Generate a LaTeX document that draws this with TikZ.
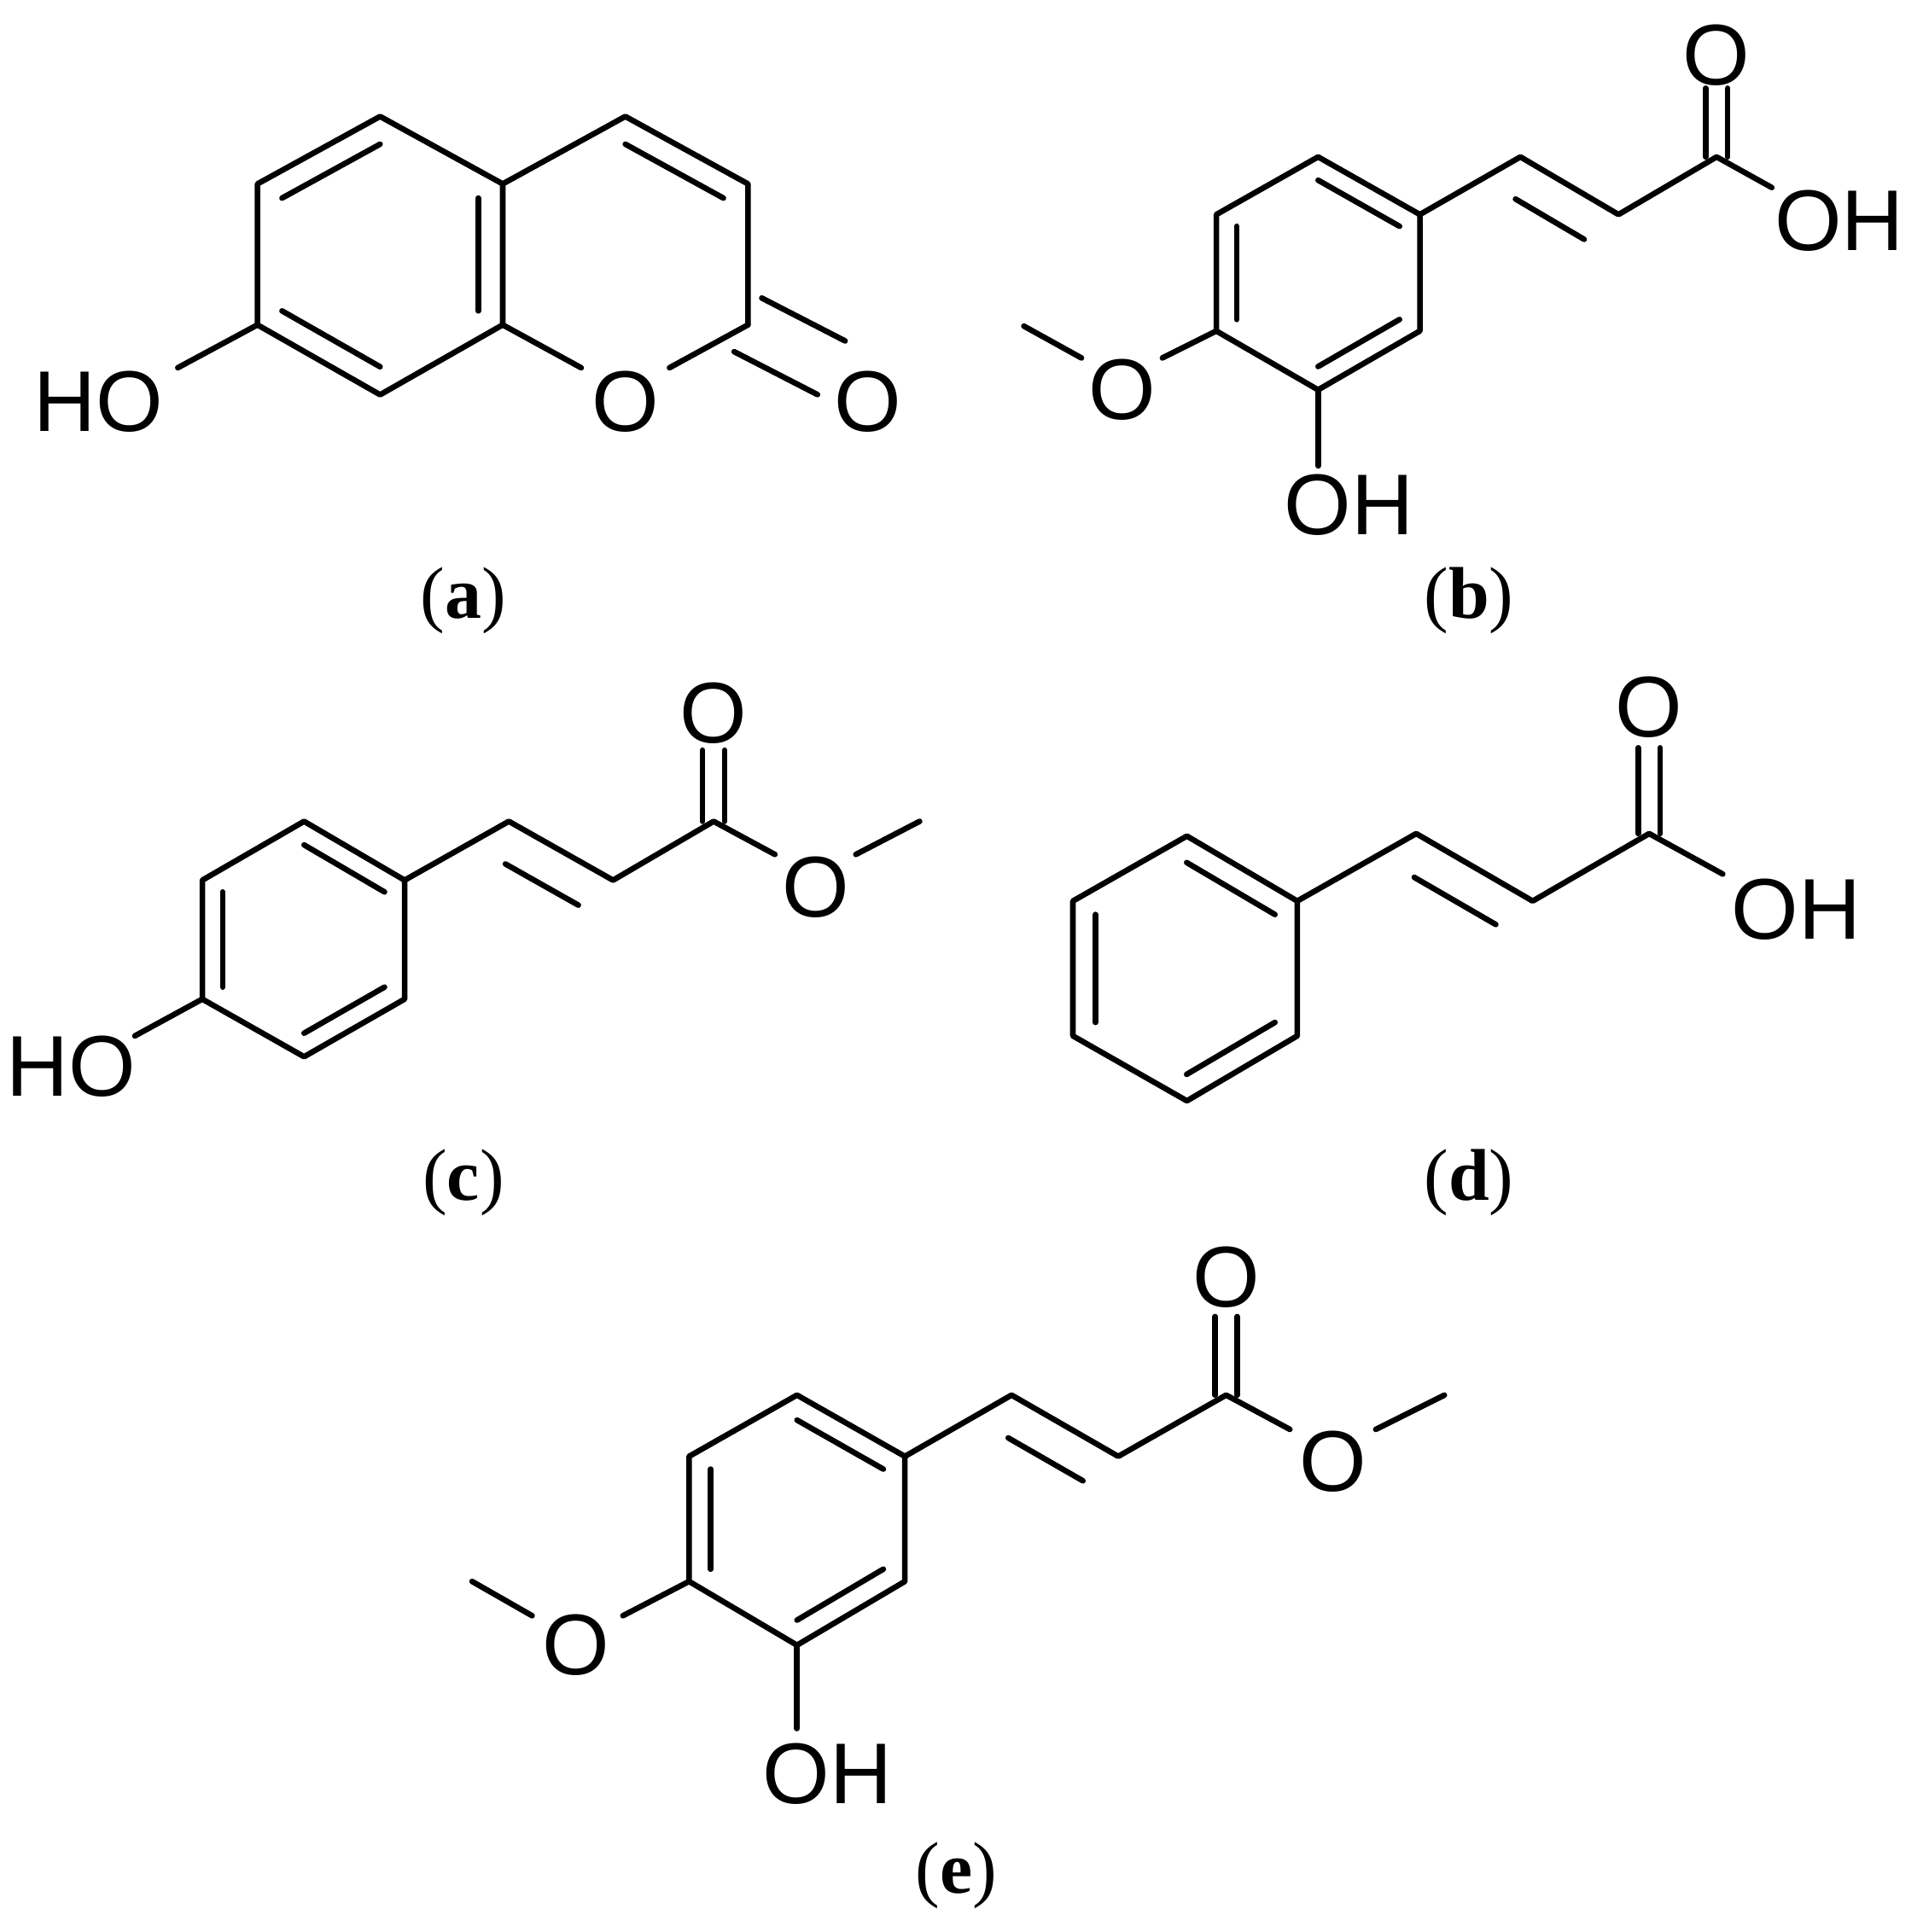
\documentclass[tikz,border=0pt]{standalone}
\usepackage{fontspec}
\setmainfont{Liberation Serif}
\newfontfamily\atomfont{Liberation Sans}
\usetikzlibrary{calc}
\tikzset{
 bond/.style={line width=1.3pt,line cap=round,line join=round},
 atom/.style={font=\atomfont\fontsize{20}{20}\selectfont,inner sep=0pt},
 caplabel/.style={font=\fontsize{17}{17}\selectfont,inner sep=0pt}
}
\newcommand{\ringdb}[3]{\draw[bond] ($(#1)!0.2!(#3)$) -- ($(#2)!0.2!(#3)$);}
\newcommand{\sidedb}[3]{\draw[bond] ($($(#1)!0.15!(#2)$)!#3!-90:(#2)$) -- ($($(#2)!0.15!(#1)$)!#3!90:(#1)$);}
\begin{document}
\begin{tikzpicture}[x=0.01cm,y=-0.01cm]
\useasboundingbox (0,0) rectangle (1568,1576);
% ---------- (a)
\coordinate (a1) at (310,95); \coordinate (a2) at (410,150); \coordinate (a3) at (410,265);
\coordinate (a4) at (310,322); \coordinate (a5) at (210,265); \coordinate (a6) at (210,150);
\coordinate (aC) at (310,208);
\coordinate (b1) at (510,95); \coordinate (b2) at (610,150); \coordinate (b3) at (610,265);
\coordinate (bC) at (510,208);
\node[atom] (aO) at (510,328) {O};
\node[atom] (aO2) at (708,328) {O};
\node[atom] (aHO) at (80,328) {HO};
\draw[bond] (a1)--(a2)--(a3)--(a4)--(a5)--(a6)--cycle;
\draw[bond] (a2)--(b1)--(b2)--(b3);
\draw[bond] (a3)--(474,300); \draw[bond] (546,300)--(b3);
\draw[bond] (145,300)--(a5);
\coordinate (aCO) at (678,300);
\draw[bond] ($(b3)!7pt!90:(aCO)$) -- ($(aCO)!7pt!-90:(b3)$);
\draw[bond] ($(b3)!7pt!-90:(aCO)$) -- ($(aCO)!7pt!90:(b3)$);
\ringdb{a6}{a1}{aC} \ringdb{a4}{a5}{aC} \ringdb{a2}{a3}{aC} \ringdb{b1}{b2}{bC}
\node[caplabel] (capa) at (378,490) {(\textbf{a})};
% ---------- (b)
\coordinate (r1) at (1075,128); \coordinate (r2) at (1158,175); \coordinate (r3) at (1158,270);
\coordinate (r4) at (1075,318); \coordinate (r5) at (992,270); \coordinate (r6) at (992,175);
\coordinate (rC) at (1075,223);
\coordinate (c1) at (1240,128); \coordinate (c2) at (1320,175); \coordinate (c3) at (1400,128);
\node[atom] (bO) at (1400,45) {O};
\node[atom] (bOH) at (1500,180) {OH};
\node[atom] (bOm) at (915,318) {O};
\node[atom] (bOH2) at (1100,412) {OH};
\draw[bond] (r1)--(r2)--(r3)--(r4)--(r5)--(r6)--cycle;
\draw[bond] (r2)--(c1)--(c2)--(c3)--(1445,153);
\sidedb{c1}{c2}{9pt}
\draw[bond] (1391,128)--(1391,72); \draw[bond] (1409,128)--(1409,72);
\draw[bond] (r5)--(948,292); \draw[bond] (882,292)--(835,266);
\draw[bond] (r4)--(1075,380);
\ringdb{r6}{r5}{rC} \ringdb{r1}{r2}{rC} \ringdb{r3}{r4}{rC}
\node[caplabel] (capb) at (1198,490) {(\textbf{b})};
% ---------- (c)
\coordinate (s1) at (248,670); \coordinate (s2) at (330,718); \coordinate (s3) at (330,815);
\coordinate (s4) at (248,862); \coordinate (s5) at (165,815); \coordinate (s6) at (165,718);
\coordinate (sC) at (248,766);
\coordinate (d1) at (415,670); \coordinate (d2) at (500,718); \coordinate (d3) at (582,670);
\node[atom] (cO) at (582,582) {O};
\node[atom] (cOe) at (665,724) {O};
\node[atom] (cHO) at (58,870) {HO};
\draw[bond] (s1)--(s2)--(s3)--(s4)--(s5)--(s6)--cycle;
\draw[bond] (s2)--(d1)--(d2)--(d3)--(632,697); \draw[bond] (698,697)--(750,670);
\sidedb{d1}{d2}{9pt}
\draw[bond] (573,670)--(573,612); \draw[bond] (591,670)--(591,612);
\draw[bond] (s5)--(110,845);
\ringdb{s6}{s5}{sC} \ringdb{s1}{s2}{sC} \ringdb{s3}{s4}{sC}
\node[caplabel] (capc) at (378,965) {(\textbf{c})};
% ---------- (d)
\coordinate (p1) at (968,682); \coordinate (p2) at (1058,735); \coordinate (p3) at (1058,845);
\coordinate (p4) at (968,898); \coordinate (p5) at (875,845); \coordinate (p6) at (875,735);
\coordinate (pC) at (967,790);
\coordinate (e1) at (1155,680); \coordinate (e2) at (1250,735); \coordinate (e3) at (1345,680);
\node[atom] (dO) at (1345,577) {O};
\node[atom] (dOH) at (1465,742) {OH};
\draw[bond] (p1)--(p2)--(p3)--(p4)--(p5)--(p6)--cycle;
\draw[bond] (p2)--(e1)--(e2)--(e3)--(1405,713);
\sidedb{e1}{e2}{9pt}
\draw[bond] (1336,680)--(1336,610); \draw[bond] (1354,680)--(1354,610);
\ringdb{p6}{p5}{pC} \ringdb{p1}{p2}{pC} \ringdb{p3}{p4}{pC}
\node[caplabel] (capd) at (1198,965) {(\textbf{d})};
% ---------- (e)
\coordinate (q1) at (650,1138); \coordinate (q2) at (738,1188); \coordinate (q3) at (738,1290);
\coordinate (q4) at (650,1342); \coordinate (q5) at (562,1290); \coordinate (q6) at (562,1188);
\coordinate (qC) at (650,1240);
\coordinate (f1) at (825,1138); \coordinate (f2) at (912,1188); \coordinate (f3) at (1000,1138);
\node[atom] (eO) at (1000,1042) {O};
\node[atom] (eOe) at (1087,1192) {O};
\node[atom] (eOm) at (470,1342) {O};
\node[atom] (eOH) at (675,1447) {OH};
\draw[bond] (q1)--(q2)--(q3)--(q4)--(q5)--(q6)--cycle;
\draw[bond] (q2)--(f1)--(f2)--(f3)--(1052,1166); \draw[bond] (1122,1166)--(1178,1138);
\sidedb{f1}{f2}{9pt}
\draw[bond] (991,1138)--(991,1074); \draw[bond] (1009,1138)--(1009,1074);
\draw[bond] (q5)--(508,1318); \draw[bond] (434,1318)--(385,1290);
\draw[bond] (q4)--(650,1410);
\ringdb{q6}{q5}{qC} \ringdb{q1}{q2}{qC} \ringdb{q3}{q4}{qC}
\node[caplabel] (cape) at (780,1530) {(\textbf{e})};
\end{tikzpicture}
\end{document}
